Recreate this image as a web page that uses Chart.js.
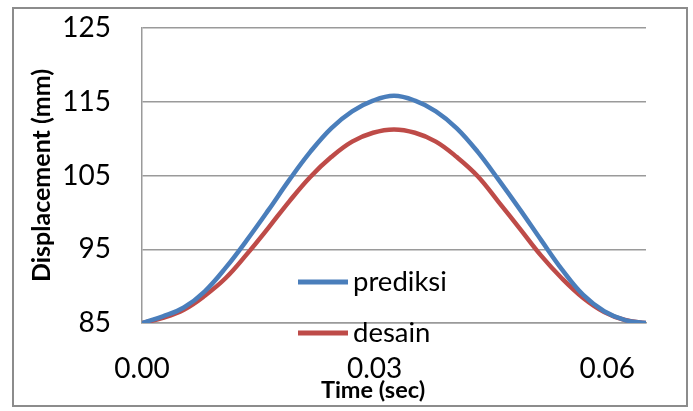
<!DOCTYPE html>
<html><head><meta charset="utf-8">
<script src="https://cdn.jsdelivr.net/npm/chart.js@4/dist/chart.umd.min.js"></script>
<style>html,body{margin:0;padding:0;background:#fff;}#wrap{width:693px;height:411px;position:relative;}</style>
</head><body><div id="wrap"><canvas id="c" width="693" height="411"></canvas></div>
<script>
// ---- data ----
const times = [0, 0.0027, 0.0054, 0.0081, 0.0108, 0.0135, 0.0163, 0.019, 0.0217, 0.0244, 0.0271, 0.0298, 0.0325,
               0.0352, 0.0379, 0.0406, 0.0433, 0.046, 0.0488, 0.0515, 0.0542, 0.0569, 0.0596, 0.0623, 0.065];
const prediksi = [85.0, 85.9, 87.1, 89.3, 92.5, 96.2, 100.3, 104.4, 108.2, 111.4, 113.7, 115.15, 115.8,
                  115.15, 113.7, 111.4, 108.2, 104.4, 100.3, 96.2, 92.2, 88.8, 86.6, 85.4, 85.0];
const desain   = [85.0, 85.7, 86.8, 88.7, 91.1, 94.3, 97.9, 101.5, 104.8, 107.5, 109.6, 110.8, 111.25,
                  110.8, 109.6, 107.5, 104.9, 101.4, 97.7, 94.1, 91.0, 88.4, 86.5, 85.4, 85.0];
const seriesNames = ['prediksi', 'desain'];
const xTickValues = [0, 0.03, 0.06];
const yTickValues = [85, 95, 105, 115, 125];
const xTitle = 'Time (sec)';
const yTitle = 'Displacement (mm)';

const colors = ['#4a7ebb', '#be4b48'];
const FONT = 'Lato';

const decor = {
  id: 'decor',
  afterDraw(chart) {
    const ctx = chart.ctx, a = chart.chartArea;
    ctx.save();
    // outer frame
    ctx.strokeStyle = '#8c8c8c';
    ctx.lineWidth = 2;
    ctx.strokeRect(13, 8, 674, 398);
    // y title
    ctx.fillStyle = '#000';
    ctx.textAlign = 'center';
    ctx.textBaseline = 'middle';
    ctx.font = 'bold 25px ' + FONT;
    ctx.save();
    ctx.translate(42, (a.top + a.bottom) / 2);
    ctx.rotate(-Math.PI / 2);
    ctx.fillText(yTitle, 0, 0);
    ctx.restore();
    // x title
    ctx.font = 'bold 23.5px ' + FONT;
    ctx.fillText(xTitle, 373, 390);
    // legend
    const ly = [282, 333];
    chart.data.datasets.forEach((ds, i) => {
      ctx.strokeStyle = ds.borderColor;
      ctx.lineWidth = 5;
      ctx.lineCap = 'butt';
      ctx.beginPath();
      ctx.moveTo(298, ly[i]);
      ctx.lineTo(348, ly[i]);
      ctx.stroke();
      ctx.fillStyle = '#000';
      ctx.font = '27.5px ' + FONT;
      ctx.textAlign = 'left';
      ctx.textBaseline = 'alphabetic';
      ctx.fillText(ds.label, 353, ly[i] + 9);
    });
    ctx.restore();
  }
};

function zeroPad(s) { s.paddingTop = 0; s.paddingBottom = 0; s.paddingLeft = 0; s.paddingRight = 0; }

function draw() {
  new Chart(document.getElementById('c'), {
    type: 'scatter',
    data: {
      datasets: [prediksi, desain].map((vals, i) => ({
        label: seriesNames[i],
        data: times.map((t, j) => ({ x: t, y: vals[j] })),
        showLine: true,
        borderColor: colors[i],
        backgroundColor: colors[i],
        borderWidth: 4.5,
        pointRadius: 0,
        tension: 0.4,
        fill: false
      }))
    },
    options: {
      responsive: false,
      devicePixelRatio: 1,
      animation: false,
      layout: { padding: { top: 28, right: 47, left: 0, bottom: 0 } },
      plugins: { legend: { display: false }, tooltip: { enabled: false } },
      scales: {
        x: {
          type: 'linear', min: 0, max: 0.065,
          afterBuildTicks: s => { s.ticks = xTickValues.map(v => ({ value: v })); },
          afterFit: s => { s.height = 88; zeroPad(s); },
          grid: { display: false, drawTicks: false },
          border: { display: true, color: '#9a9a9a', width: 1.5 },
          ticks: {
            autoSkip: false, maxRotation: 0, padding: 29,
            color: '#000', font: { family: FONT, size: 28 },
            callback: v => Number(v).toFixed(2)
          }
        },
        y: {
          min: 85, max: 125,
          afterBuildTicks: s => { s.ticks = yTickValues.map(v => ({ value: v })); },
          afterFit: s => { s.width = 142; zeroPad(s); },
          grid: { color: '#9a9a9a', lineWidth: 1.5, drawTicks: false },
          border: { display: true, color: '#9a9a9a', width: 1.5 },
          ticks: {
            padding: 31, color: '#000', font: { family: FONT, size: 28 },
            callback: v => String(v)
          }
        }
      }
    },
    plugins: [decor]
  });
}
if (document.fonts && document.fonts.load) {
  Promise.all([document.fonts.load('28px ' + FONT), document.fonts.load('bold 25px ' + FONT)]).then(draw, draw);
} else { draw(); }
</script></body></html>
